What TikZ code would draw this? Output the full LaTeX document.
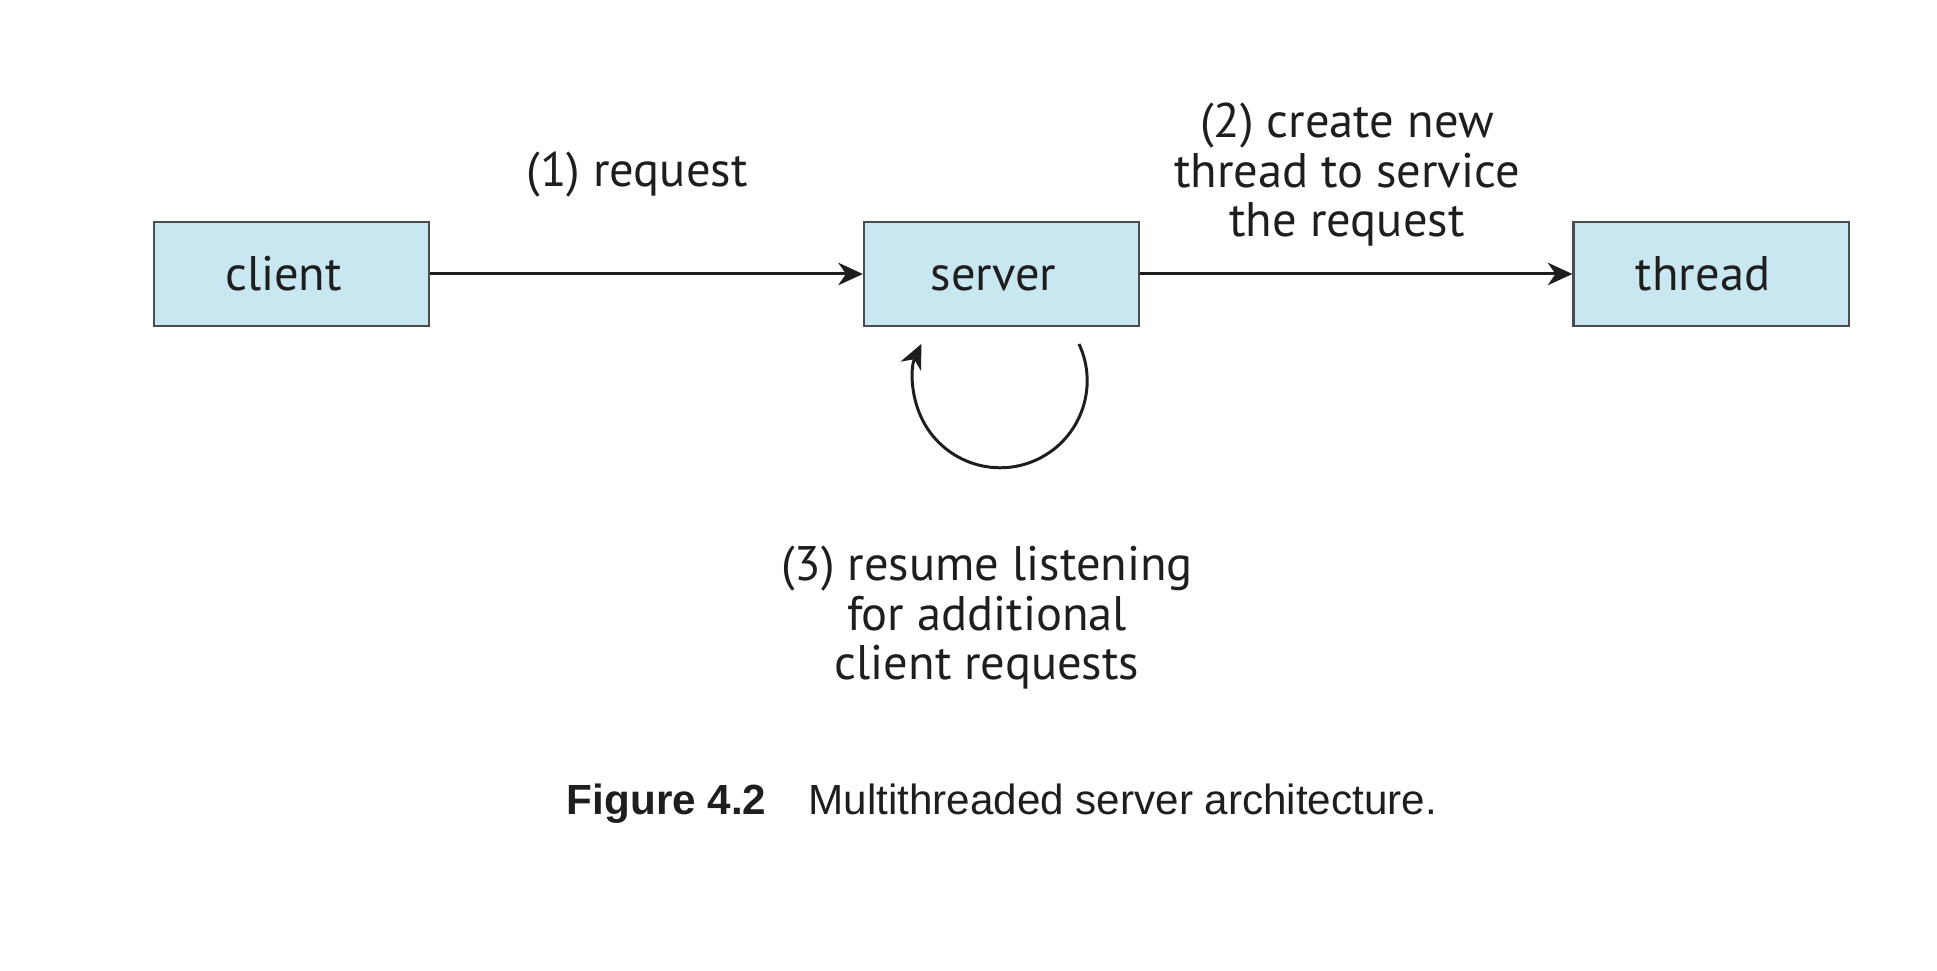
\documentclass[tikz,border=0pt]{standalone}
\usepackage{fontspec}
\setmainfont{PT Sans}
\newfontfamily\capfont{Liberation Sans}
\usetikzlibrary{arrows.meta}
\definecolor{boxblue}{RGB}{200,231,240}
\definecolor{ink}{RGB}{30,30,30}
\def\boxW{2.75cm}
\def\boxH{1.04cm}
\def\rowY{274}
\def\loopR{87}
\setlength{\lineskiplimit}{-20pt}

\begin{document}
\begin{tikzpicture}[
    x=0.01cm, y=-0.01cm,
    >={Stealth[length=7pt,width=6.4pt,inset=2.2pt]},
    box/.style={draw=black!70, line width=0.6pt, fill=boxblue,
        minimum width=\boxW, minimum height=\boxH, inner sep=0pt,
        text height=9.5pt, text depth=0pt,
        execute at end node={\kern4.5pt},
        text=ink, font=\fontsize{13.8}{14.2}\selectfont},
    lbl/.style={align=center, text=ink, inner sep=0pt,
        font=\fontsize{13.8}{14.2}\selectfont},
    flow/.style={->, draw=ink, line width=0.85pt}
]
\useasboundingbox (0,0) rectangle (1937,971);

% the three boxes
\node[box] (client) at (291.5,\rowY) {client};
\node[box] (server) at (1001.5,\rowY) {server};
\node[box] (thread) at (1711,\rowY) {thread};

\draw[flow] (client.east) -- (server.west);
\draw[flow] (server.east) -- (thread.west);

% server goes back to listening
\coordinate (loopA) at (1079,344);
\draw[flow] (loopA) arc[start angle=-25, end angle=205, radius=\loopR];

% base = last line
\node[lbl, anchor=base] (req) at (637,187) {(1) request};
\node[lbl, anchor=base] (create) at (1347,237) {(2) create new\\thread to service\\the request};
\node[lbl, anchor=base] (resume) at (987,680) {(3) resume listening\\for additional\\client requests};

\node[anchor=base, text=ink, inner sep=0pt, font=\capfont\fontsize{12}{14}\selectfont] (caption) at (1002,815)
    {{\bfseries Figure 4.2}\quad Multithreaded server architecture.};
\end{tikzpicture}
\end{document}
